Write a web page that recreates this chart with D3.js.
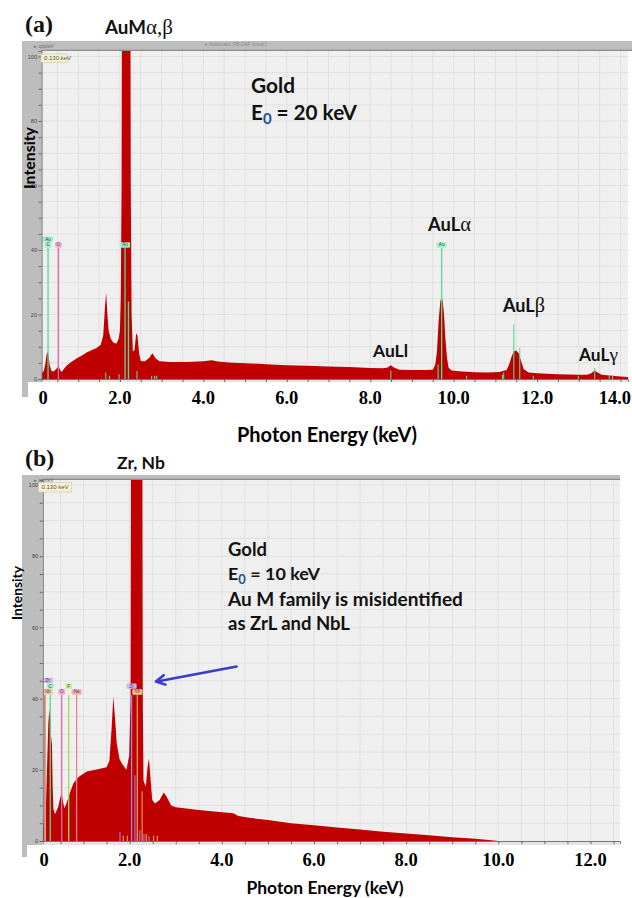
<!DOCTYPE html>
<html><head><meta charset="utf-8">
<script src="https://cdn.jsdelivr.net/npm/d3@7"></script>
<style>body{margin:0;background:#fff}svg{display:block}</style>
</head><body>
<svg id="c" width="632" height="898"></svg>
<script>
// ---------- DATA ----------
// Panel (a): Gold, E0 = 20 keV
const energyA = [0.12,0.13,0.17,0.21,0.24,0.27,0.29,0.32,0.36,0.41,0.47,0.52,0.56,0.60,0.66,0.73,0.85,0.97,1.10,1.20,1.32,1.44,1.54,1.60,1.64,1.67,1.70,1.73,1.78,1.85,1.92,1.97,2.00,2.02,2.04,2.06,2.24,2.26,2.28,2.31,2.35,2.39,2.42,2.46,2.50,2.60,2.70,2.78,2.85,2.95,3.2,3.6,4.0,4.2,4.35,4.6,5.0,5.5,6.0,6.5,7.0,7.5,8.0,8.3,8.42,8.49,8.58,8.7,9.0,9.3,9.5,9.56,9.60,9.64,9.68,9.71,9.74,9.77,9.80,9.84,9.88,9.95,10.2,10.5,10.8,11.1,11.27,11.33,11.39,11.44,11.50,11.56,11.62,11.68,11.80,12.0,12.5,13.0,13.2,13.3,13.38,13.45,13.55,13.8,14.0,14.18];
const intensityA = [0,2.0,2.3,4.5,7.5,8.5,7.0,4.0,2.5,2.3,3.0,3.9,3.0,2.1,3.2,4.3,5.4,6.4,7.4,8.2,8.9,9.6,10.6,13.5,22,26.8,20,15,12.5,11.2,11.0,12.5,15,25,60,200,200,60,20,8.5,9.0,14.2,13.5,8,5.6,5.5,6.5,8.0,6.4,5.5,5.3,5.3,5.5,5.8,5.4,5.1,4.9,4.6,4.3,4.1,3.9,3.7,3.4,3.3,3.6,4.3,3.5,2.9,2.8,2.8,2.9,4.5,8.5,18,24,25.5,24,20,13,6.5,3.5,2.6,2.3,2.1,2.0,2.2,2.8,4.5,7.0,8.5,8.8,8.0,5.5,3.0,2.0,1.8,1.5,1.3,1.3,1.8,2.6,2.0,1.3,1.0,0.8,0.6];
// Panel (b): Gold, E0 = 10 keV
const energyB = [0.113,0.12,0.148,0.184,0.21,0.235,0.256,0.275,0.29,0.315,0.33,0.345,0.38,0.45,0.50,0.525,0.555,0.585,0.63,0.70,0.78,0.89,1.07,1.28,1.50,1.56,1.61,1.645,1.68,1.72,1.78,1.83,1.93,1.99,2.02,2.035,2.27,2.285,2.30,2.35,2.39,2.42,2.45,2.49,2.55,2.65,2.74,2.80,2.90,3.0,3.5,4.0,4.25,4.36,4.6,5.0,5.5,6.0,6.5,7.0,7.5,8.0,8.5,9.0,9.5,9.8,10.0,12.64];
const intensityB = [0,3,8.2,10.6,22,33,37,35,30,27,15,9,7.5,9.6,12.5,13.4,11,9.2,10.6,13.4,16.2,18,19.5,20.1,20.7,22.5,32,40.5,35,27.4,23,21.8,20,24,40,150,150,40,17,15.3,21,23.2,18,11.5,10.5,11.5,13.6,12.5,10,9.5,8.7,8.1,7.8,7.0,6.5,5.9,5.0,4.4,3.8,3.2,2.6,2.1,1.6,1.05,0.6,0.3,0,0];

// element marker lines
const markerEnergyA  = [0.277,0.525,2.123,2.205,1.66,1.75,1.98,2.409,2.76,2.83,2.88,8.494,9.628,9.713,10.31,11.17,11.20,11.443,11.585,11.91,12.99,13.382,13.73,13.81];
const markerHeightA  = [40.6,40.6,40.6,24,2,1,1.5,2.5,1,1,1,2.6,4.5,40.6,1,1.3,2,17,9.6,1,1,3.4,1.2,1.2];
const markerElementA = ["C","O","Au","Au","Au","Au","Au","Au","Au","Au","Au","Au","Au","Au","Au","Au","Au","Au","Au","Au","Au","Au","Au","Au"];
const labelTextA   = ["Au","C","O","Au","Au"];
const labelEnergyA = [0.277,0.277,0.525,2.123,9.713];
const labelRowA    = [1,0,0,0,0];
const labelTopA    = 40.6;

const markerEnergyB  = [0.151,0.171,0.277,0.525,0.677,0.849,2.042,2.166,2.115,2.27,1.79,1.86,1.95,2.22,2.31,2.36,2.42,2.52,2.60];
const markerHeightB  = [41,41,41,41,41,41,41,41,18.5,14,2.5,1.5,1.5,3,2,2,1.5,1.5,1.5];
const markerElementB = ["Zr","Nb","C","O","F","Ne","Zr","Nb","Zr","Nb","Zr","Nb","Nb","Zr","Zr","Nb","Zr","Nb","Nb"];
const labelTextB   = ["Zr","C","Nb","O","F","Ne","Zr","Nb"];
const labelEnergyB = [0.151,0.277,0.151,0.525,0.677,0.849,2.042,2.166];
const labelRowB    = [2,1,0,0,1,0,1,0];
const labelTopB    = 41;

const xTickValuesA = [0,2,4,6,8,10,12,14];
const xTickValuesB = [0,2,4,6,8,10,12];
const yTickValues  = [0,20,40,60,80,100];

// arrow in panel (b): [energy, intensity] of tail and head
const arrowB = [[4.32,49],[2.57,44.8]];

// ---------- STYLES ----------
const lineColor = {Au:"#4fdc94",C:"#4fdc94",O:"#e468b4",Zr:"#a37ee4",Nb:"#f0a248",F:"#9ede58",Ne:"#ee8484"};
const boxColor  = {Au:"#9cf0c6",C:"#9cf0c6",O:"#f4a8d6",Zr:"#cdb2f4",Nb:"#f8c994",F:"#c8f092",Ne:"#f8aaaa"};
const RED = "#c00000";
const svg = d3.select("#c");

function fitWidth(t, w){
  const L = t.node().getComputedTextLength();
  const f = parseFloat(t.attr("font-size"));
  t.attr("font-size", (f*w/L).toFixed(2));
  return t;
}

function panel(o){
  const g = svg.append("g");
  const x = d3.scaleLinear().domain(o.xDomain).range([o.left,o.right]);
  const y = d3.scaleLinear().domain([0,o.yMax]).range([o.bottom,o.top]);
  // frame
  g.append("rect").attr("x",22).attr("y",o.barTop).attr("width",o.barRight-22).attr("height",o.top-o.barTop).attr("fill","#bdbdbd");
  g.append("rect").attr("x",22).attr("y",o.barTop).attr("width",o.left-22).attr("height",o.bandBottom-o.barTop).attr("fill","#bdbdbd");
  g.append("rect").attr("x",o.left).attr("y",o.bottom).attr("width",o.right-o.left).attr("height",o.whiteTop-o.bottom).attr("fill","#e4e4e4");
  g.append("rect").attr("x",o.whiteLeft).attr("y",o.whiteTop).attr("width",632-o.whiteLeft).attr("height",o.bandBottom-o.whiteTop+2).attr("fill","#fff");
  g.append("line").attr("x1",o.left).attr("x2",o.barRight).attr("y1",o.top-0.6).attr("y2",o.top-0.6).attr("stroke","#8c8c8c").attr("stroke-width",1.2);
  // plot background
  g.append("rect").attr("x",o.left).attr("y",o.top).attr("width",o.right-o.left).attr("height",o.bottom-o.top).attr("fill","#efefef");
  const gx = d3.range(Math.ceil(o.xDomain[0]*2)/2, o.xDomain[1], 0.5);
  const gy = d3.range(5, o.yMax, 5);
  g.append("g").selectAll("line").data(gx).join("line")
    .attr("x1",d=>x(d)).attr("x2",d=>x(d)).attr("y1",o.top).attr("y2",o.bottom)
    .attr("stroke","#e0e0e0").attr("stroke-width",1);
  g.append("g").selectAll("line").data(gy).join("line")
    .attr("y1",d=>y(d)).attr("y2",d=>y(d)).attr("x1",o.left).attr("x2",o.right)
    .attr("stroke","#e0e0e0").attr("stroke-width",1);
  // spectrum
  const cid = "clip"+o.id;
  g.append("clipPath").attr("id",cid).append("rect")
    .attr("x",o.left).attr("y",o.top).attr("width",o.right-o.left).attr("height",o.bottom-o.top);
  const pts = o.energy.map((e,i)=>[e,o.intensity[i]]);
  g.append("path").datum(pts).attr("clip-path",`url(#${cid})`)
    .attr("fill",RED)
    .attr("d", d3.area().x(d=>x(d[0])).y0(y(0)).y1(d=>y(d[1])));
  // markers
  const mk = o.mE.map((e,i)=>({e, h:o.mH[i], el:o.mEl[i]}));
  g.append("g").attr("clip-path",`url(#${cid})`).selectAll("line").data(mk).join("line")
    .attr("x1",d=>x(d.e)).attr("x2",d=>x(d.e)).attr("y1",y(0)).attr("y2",d=>y(d.h))
    .attr("stroke",d=>lineColor[d.el]).attr("stroke-width",d=>d.h>20?1.3:1.1);
  // label boxes
  const lb = o.lT.map((t,i)=>({t, e:o.lE[i], r:o.lR[i]}));
  const boxH = 5.8;
  const lg = g.append("g").selectAll("g").data(lb).join("g")
    .attr("transform",d=>{
      const w = d.t.length*3.3+3.4;
      const cx = Math.max(x(d.e), o.left + w/2);
      return `translate(${cx},${y(o.lTop) - (d.r+1)*boxH})`;
    });
  lg.append("rect").attr("x",d=>-(d.t.length*3.3+3.4)/2).attr("y",0)
    .attr("width",d=>d.t.length*3.3+3.4).attr("height",boxH-0.4).attr("rx",0.8)
    .attr("fill",d=>boxColor[d.t]);
  lg.append("text").attr("x",0).attr("y",boxH-1.6).attr("text-anchor","middle")
    .attr("font-family","Liberation Sans, Arial").attr("font-size",4.6).attr("fill","#444")
    .text(d=>d.t);
  // axes
  const ax = g.append("g").attr("transform",`translate(0,${o.bottom})`)
    .call(d3.axisBottom(x).tickValues(gx).tickSize(3).tickFormat(""));
  ax.select(".domain").attr("stroke","#777");
  ax.selectAll(".tick line").attr("stroke","#666");
  const ay = g.append("g").attr("transform",`translate(${o.left},0)`)
    .call(d3.axisLeft(y).tickValues(d3.range(0,101,5)).tickSize(3).tickPadding(1.5)
      .tickFormat(d=> yTickValues.includes(d) ? d : ""));
  ay.select(".domain").attr("stroke","#666");
  ay.selectAll(".tick line").attr("stroke","#666");
  ay.selectAll(".tick text").attr("font-family","Liberation Sans, Arial").attr("font-size",5.6).attr("fill","#444");
  // header text in bar
  g.append("text").attr("x",34).attr("y",o.barTop+7.3).attr("font-family","Liberation Sans, Arial")
    .attr("font-size",5).attr("fill","#6a6a6a").text("\u25B8  cps/eV");
  if (o.header) g.append("text").attr("x",205).attr("y",o.barTop+5.2).attr("font-family","Liberation Sans, Arial")
    .attr("font-size",5).attr("fill","#8a8a8a").text("\u25B8 Automatic PB-ZAF (mod.)");
  // tooltip
  const tt = g.append("g").attr("transform",`translate(${o.tipX},${o.tipY})`);
  tt.append("rect").attr("width",o.tipW).attr("height",o.tipH).attr("fill","#f4f0d0").attr("stroke","#cfc89c").attr("stroke-width",0.6);
  tt.append("text").attr("x",3).attr("y",o.tipH-2.6).attr("font-family","Liberation Sans, Arial")
    .attr("font-size",6).attr("fill","#555").text("0.130 keV");
  // tick labels (serif bold)
  const tl = g.append("g").selectAll("text").data(o.xt).join("text")
    .attr("x",d=>Math.max(x(d), o.left+1.5)).attr("y",o.tickBase)
    .attr("text-anchor","middle").attr("font-family","Liberation Serif, Times New Roman, serif")
    .attr("font-weight","bold").attr("font-size",o.tickSize).attr("fill","#000")
    .text(d=> d===0 ? "0" : d.toFixed(1));
  tl.each(function(){
    const t = d3.select(this), w = this.getComputedTextLength(), cx = +t.attr("x");
    if (cx + w/2 > 631) t.attr("x", 631 - w/2);
  });
  // axis titles
  const px = g.append("text").attr("x",o.pxX).attr("y",o.pxY).attr("text-anchor","middle")
    .attr("font-family","Lato, Open Sans, sans-serif").attr("font-weight","bold").attr("font-size",17)
    .attr("fill","#000").text("Photon Energy (keV)");
  fitWidth(px, o.pxW);
  const it = g.append("text").attr("transform",`translate(${o.inX},${o.inY}) rotate(-90)`)
    .attr("text-anchor","middle").attr("font-family","Lato, Open Sans, sans-serif")
    .attr("font-weight","bold").attr("font-size",14).attr("fill","#000").text("Intensity");
  fitWidth(it, o.inW);
  return {g,x,y};
}

const A = panel({id:"a", energy:energyA, intensity:intensityA, xDomain:[0.12,14.18], left:41.5, right:628, top:51, bottom:379,
  yMax:(379-51)/3.225, barTop:41, barRight:632, bandBottom:397, whiteTop:382, whiteLeft:28,
  mE:markerEnergyA, mH:markerHeightA, mEl:markerElementA, lT:labelTextA, lE:labelEnergyA, lR:labelRowA, lTop:labelTopA,
  header:true, tipX:41, tipY:54, tipW:26.5, tipH:8.6, xt:xTickValuesA, tickBase:404, tickSize:18.5,
  pxX:327, pxY:442, pxW:180, inX:35, inY:158, inW:62});

const B = panel({id:"b", energy:energyB, intensity:intensityB, xDomain:[0.113,12.64], left:42.7, right:620, top:480, bottom:841,
  yMax:361/3.56, barTop:475, barRight:620, bandBottom:857, whiteTop:845, whiteLeft:27,
  mE:markerEnergyB, mH:markerHeightB, mEl:markerElementB, lT:labelTextB, lE:labelEnergyB, lR:labelRowB, lTop:labelTopB,
  header:false, tipX:38.5, tipY:482.5, tipW:33, tipH:9.5, xt:xTickValuesB, tickBase:866, tickSize:18.5,
  pxX:325, pxY:894, pxW:157, inX:22, inY:593, inW:54});

// ---------- annotations ----------
const SANS = "Lato, Open Sans, sans-serif";
const GREEK = "Liberation Serif, DejaVu Serif, serif";
function label(x, y, parts, size, w){
  const t = svg.append("text").attr("x",x).attr("y",y).attr("font-family",SANS).attr("font-weight","bold")
    .attr("font-size",size).attr("fill","#111");
  parts.forEach(p=>{
    const s = t.append("tspan").text(p.t);
    if (p.greek) s.attr("font-family",GREEK).attr("font-weight","normal").attr("font-size","1.12em");
    if (p.sub) s.attr("font-size","0.72em").attr("dy","0.28em").attr("fill","#1f4e8c");
    if (p.unsub) s.attr("dy","-0.2em");
  });
  if (w) fitWidth(t, w);
  return t;
}
svg.append("text").attr("x",25).attr("y",32).attr("font-family","Liberation Serif, serif").attr("font-weight","bold")
  .attr("font-size",24).attr("fill","#111").text("(a)");
svg.append("text").attr("x",25).attr("y",466).attr("font-family","Liberation Serif, serif").attr("font-weight","bold")
  .attr("font-size",24).attr("fill","#111").text("(b)");

label(105, 34, [{t:"AuM"},{t:"\u03B1,\u03B2",greek:true}], 17, 68);
label(251, 93, [{t:"Gold"}], 20, 44);
label(251, 120, [{t:"E"},{t:"0",sub:true},{t:" = 20 keV",unsub:true}], 20, 106);
label(428, 231, [{t:"AuL"},{t:"\u03B1",greek:true}], 17, 43);
label(503, 312, [{t:"AuL"},{t:"\u03B2",greek:true}], 17, 42);
label(373, 357, [{t:"AuLl"}], 17, 35);
label(579, 361, [{t:"AuL"},{t:"\u03B3",greek:true}], 17, 39);

label(117, 469, [{t:"Zr, Nb"}], 17, 48);
label(228, 556, [{t:"Gold"}], 18, 39);
label(228, 580, [{t:"E"},{t:"0",sub:true},{t:" = 10 keV",unsub:true}], 18, 92);
label(228, 605.5, [{t:"Au M family is misidentified"}], 18, 235);
label(228, 630, [{t:"as ZrL and NbL"}], 18, 122);

// arrow
const ax0 = B.x(arrowB[0][0]), ay0 = B.y(arrowB[0][1]), ax1 = B.x(arrowB[1][0]), ay1 = B.y(arrowB[1][1]);
const ang = Math.atan2(ay0-ay1, ax0-ax1);
const hl = 10, hw = 0.5;
svg.append("line").attr("x1",ax0).attr("y1",ay0).attr("x2",ax1+1).attr("y2",ay1)
  .attr("stroke","#3a3ad0").attr("stroke-width",2.6).attr("stroke-linecap","round");
svg.append("path")
  .attr("d",`M${ax1+hl*Math.cos(ang+hw)},${ay1+hl*Math.sin(ang+hw)} L${ax1},${ay1} L${ax1+hl*Math.cos(ang-hw)},${ay1+hl*Math.sin(ang-hw)}`)
  .attr("fill","none").attr("stroke","#3a3ad0").attr("stroke-width",2.6).attr("stroke-linecap","round").attr("stroke-linejoin","round");
</script>
</body></html>
